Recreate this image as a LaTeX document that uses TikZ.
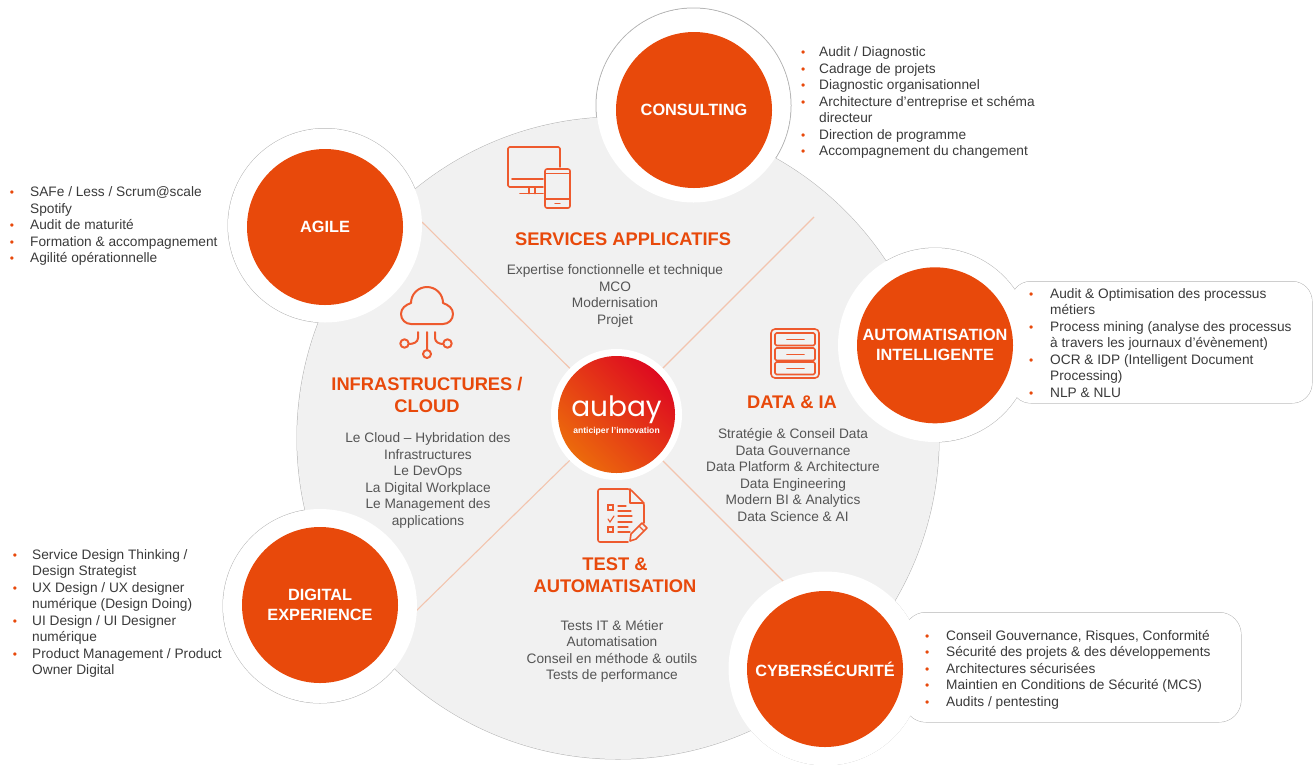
\documentclass[tikz,border=0pt]{standalone}
\usepackage{fontspec}
\setmainfont{Liberation Sans}
\newfontfamily\logofont{Poppins}
\definecolor{aorange}{HTML}{E8490B}
\definecolor{iconor}{HTML}{EE5A2E}
\definecolor{bigbg}{HTML}{F1F1F1}
\definecolor{bodytxt}{HTML}{555555}
\definecolor{listtxt}{HTML}{3A3A3A}
\definecolor{spoke}{HTML}{F3C4AE}
\definecolor{edgeg}{HTML}{B4B4B4}
\definecolor{logoA}{HTML}{EC6A0C}
\definecolor{logoB}{HTML}{E63A16}
\definecolor{logoC}{HTML}{DE0A20}
\newlength{\bulletgap}
\newcommand{\blt}{\leavevmode\llap{\textcolor{aorange}{\fontsize{12}{12}\selectfont•}\hspace{\bulletgap}}}
\tikzset{
  x=1pt,y=-1pt,
  ring/.style={circle,fill=white,inner sep=0pt,minimum size=194pt},
  disc/.style={circle,fill=aorange,inner sep=0pt,minimum size=156pt,text=white,align=center,font=\fontsize{16.3}{20}\selectfont\bfseries},
  title/.style={align=center,text=aorange,font=\fontsize{18.3}{22.5}\selectfont\bfseries},
  body/.style={align=center,text=bodytxt,font=\fontsize{13.7}{16.55}\selectfont},
  listing/.style={align=left,anchor=north west,inner sep=0pt,text=listtxt,font=\fontsize{13.7}{16.55}\selectfont,execute at begin node={\setlength{\bulletgap}{#1}}},
  silhouette/.style={draw=edgeg,line width=1pt},
  spokeline/.style={draw=spoke,line width=1.1pt},
  icon/.style={draw=iconor,line width=1.6pt,line join=round,line cap=round},
  iconthin/.style={draw=iconor,line width=1.2pt,line cap=round},
}
\begin{document}
\begin{tikzpicture}
\useasboundingbox (0,0) rectangle (1313,764);
% outline of the merged silhouette
\draw[silhouette] (618,438) circle[radius=321];
\draw[silhouette] (693.5,105.5) circle[radius=97.5];
\draw[silhouette] (325,225.5) circle[radius=97];
\draw[silhouette] (935,345) circle[radius=97];
\draw[silhouette] (320,606) circle[radius=97];
\draw[silhouette] (825.5,668.5) circle[radius=96.5];
\draw[silhouette,rounded corners=20pt] (1011,281.5) rectangle (1312,403);
\draw[silhouette,rounded corners=22pt] (904,612.5) rectangle (1241,722);

% fills on top of the outline
\node[circle,fill=bigbg,inner sep=0pt,minimum size=642pt] (big) at (618,438) {};
\fill[white,rounded corners=20pt] (1011,281.5) rectangle (1312,403);
\fill[white,rounded corners=22pt] (904,612.5) rectangle (1241,722);

% free spoke ends
\coordinate (sa) at (422,222);
\coordinate (sb) at (814,217);
\coordinate (sc) at (415,612);
\coordinate (sd) at (785,583);

% hub
\node[circle,fill=white,inner sep=0pt,minimum size=131pt] (hub) at (616.5,414.5) {};
\draw[spokeline] (sa) -- (hub);
\draw[spokeline] (sb) -- (hub);
\draw[spokeline] (sc) -- (hub);
\draw[spokeline] (sd) -- (hub);
\shade[left color=logoA,middle color=logoB,right color=logoC,shading angle=135] (616.5,414.5) circle[radius=58.5];
\node[text=white,inner sep=0pt,anchor=base,font=\logofont\fontsize{28}{28}\selectfont] (logo) at (616.5,416) {aubay};
\node[text=white,inner sep=0pt,font=\fontsize{8.6}{10}\selectfont\bfseries] (tag) at (616.5,431) {anticiper l'innovation};

% satellites
\node[ring] (r1) at (693.5,105.5) {};
\node[ring] (r2) at (325,225.5) {};
\node[ring] (r3) at (935,345) {};
\node[ring] (r4) at (320,606) {};
\node[ring] (r5) at (825.5,668.5) {};
\node[disc] (d1) at (694,110) {CONSULTING};
\node[disc] (d2) at (325,227) {AGILE};
\node[disc] (d3) at (935,345.3) {AUTOMATISATION\\INTELLIGENTE};
\node[disc] (d4) at (320,605) {DIGITAL\\EXPERIENCE};
\node[disc] (d5) at (825,669) {CYBERSÉCURITÉ};

% central texts
\node[title] (t1) at (623,239) {SERVICES APPLICATIFS};
\node[body]  (b1) at (615,296) {Expertise fonctionnelle et technique\\MCO\\Modernisation\\Projet};
\node[title] (t2) at (427,395) {INFRASTRUCTURES /\\CLOUD};
\node[body]  (b2) at (428,480.5) {Le Cloud – Hybridation des\\Infrastructures\\Le DevOps\\La Digital Workplace\\Le Management des\\applications};
\node[title] (t3) at (792,402) {DATA \& IA};
\node[body]  (b3) at (793,475) {Stratégie \& Conseil Data\\Data Gouvernance\\Data Platform \& Architecture\\Data Engineering\\Modern BI \& Analytics\\Data Science \& AI};
\node[title] (t4) at (615,575) {TEST \&\\AUTOMATISATION};
\node[body]  (b4) at (612,651.5) {Tests IT \& Métier\\Automatisation\\Conseil en méthode \& outils\\Tests de performance};

% side lists
\node[listing=14pt] (l1) at (819,46.5) {\blt Audit / Diagnostic\\\blt Cadrage de projets\\\blt Diagnostic organisationnel\\\blt Architecture d’entreprise et schéma\\directeur\\\blt Direction de programme\\\blt Accompagnement du changement};
\node[listing=16pt] (l2) at (30,186.5) {\blt SAFe / Less / Scrum@scale\\Spotify\\\blt Audit de maturité\\\blt Formation \& accompagnement\\\blt Agilité opérationnelle};
\node[listing=17pt] (l3) at (1050,288) {\blt Audit \& Optimisation des processus\\métiers\\\blt Process mining (analyse des processus\\à travers les journaux d’évènement)\\\blt OCR \& IDP (Intelligent Document\\Processing)\\\blt NLP \& NLU};
\node[listing=15pt] (l4) at (32,549) {\blt Service Design Thinking /\\Design Strategist\\\blt UX Design / UX designer\\numérique (Design Doing)\\\blt UI Design / UI Designer\\numérique\\\blt Product Management / Product\\Owner Digital};
\node[listing=17pt] (l5) at (946,630) {\blt Conseil Gouvernance, Risques, Conformité\\\blt Sécurité des projets \& des développements\\\blt Architectures sécurisées\\\blt Maintien en Conditions de Sécurité (MCS)\\\blt Audits / pentesting};

% icon: screens
\draw[icon,rounded corners=1.5pt] (560,167) -- (560,147) -- (508,147) -- (508,187) -- (543,187);
\draw[icon] (512,179) -- (543,179);
\draw[icon] (529,187) -- (529,193.5) (535,187) -- (535,193.5) (520,193.5) -- (543,193.5);
\draw[icon,rounded corners=2pt] (545,169) rectangle (570,208);
\draw[icon] (545,173.5) -- (570,173.5) (545,199) -- (570,199);
\draw[iconthin,line width=1.4pt] (555,203.5) -- (560,203.5);

% icon: cloud
\draw[icon,line width=2pt] (411,324) to[out=180,in=270] (401,314) to[out=90,in=200] (411,303) to[out=90,in=180] (427,287) to[out=0,in=90] (443,303) to[out=-20,in=90] (453,314) to[out=270,in=0] (443,324) -- cycle;
\draw[icon,line width=2pt] (427,332) -- (427,350) (427,354) circle[radius=4];
\draw[icon,line width=2pt] (418,332) -- (418,338) to[out=270,in=0] (409,344) (404.5,343.5) circle[radius=4.2];
\draw[icon,line width=2pt] (435,332) -- (435,338) to[out=270,in=180] (443,344) (447.5,343.5) circle[radius=4.2];

% icon: server
\draw[icon,rounded corners=4pt] (771,329) rectangle (819,378);
\foreach \y in {333,348,362}{
  \draw[icon,rounded corners=1.5pt] (775,\y) rectangle (815,\y+12.5);
  \draw[iconthin,line width=1.8pt] (787,\y+6.5) -- (804,\y+6.5);
}

% icon: checklist
\draw[icon,rounded corners=2pt] (644,523) -- (644,503) -- (630,489) -- (598,489) -- (598,542) -- (628,542);
\draw[icon] (630,489) -- (630,503) -- (644,503);
\draw[iconthin] (608,505) rectangle (613,510) (608,527) rectangle (613,532);
\draw[iconthin] (608,519) -- (610,522) -- (614,516);
\draw[iconthin] (618,506) -- (626,506) (618,511) -- (631,511) (618,516) -- (632,516) (618,522) -- (632,522) (618,527) -- (628,527) (618,532) -- (630,532);
\draw[icon,fill=bigbg] (630,541) -- (631,534) -- (642,523) -- (647,528) -- (636,539) -- cycle;
\draw[iconthin] (639,526) -- (644,531);
\end{tikzpicture}
\end{document}
